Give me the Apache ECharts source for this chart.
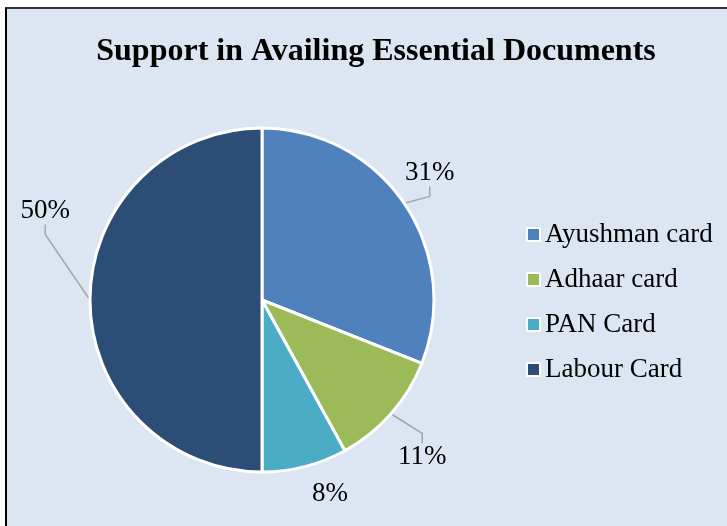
<html>
<head>
<meta charset="utf-8">
<title>Support in Availing Essential Documents</title>
<script src="https://cdn.jsdelivr.net/npm/echarts@6/dist/echarts.min.js"></script>
<style>
  body { margin: 0; background: #fff; }
  #frame { position: absolute; left: 5px; top: 7px; width: 720px; height: 517px;
           border-left: 2px solid #000; border-top: 2px solid #333; background: #DCE6F2; }
  #main { width: 720px; height: 517px; }
</style>
</head>
<body>
<div id="frame"><div id="main"></div></div>
<script>
// data
var categories = ['Ayushman card', 'Adhaar card', 'PAN Card', 'Labour Card'];
var shares = [31, 11, 8, 50];
var colors = ['#4F81BD', '#9BBB59', '#4BACC6', '#2C4D75'];

// label placement (Excel style), px inside chart
var labelSpots = [
  { x: 398, y: 164, align: 'left' },
  { x: 391, y: 448, align: 'left' },
  { x: 305, y: 485, align: 'left' },
  { x: 63, y: 202, align: 'right' }
];

var pieData = [];
for (var i = 0; i < categories.length; i++) {
  var d = { name: categories[i], value: shares[i], itemStyle: { color: colors[i] } };
  if (i === 2) d.labelLine = { show: false };
  pieData.push(d);
}

var myChart = echarts.init(document.getElementById('main'));
var font = '"Liberation Serif", "Times New Roman", serif';

var option = {
  backgroundColor: '#DCE6F2',
  animation: false,
  title: {
    text: 'Support in Availing Essential Documents',
    left: 364, top: 22, textAlign: 'center',
    textStyle: { fontFamily: font, fontSize: 32, fontWeight: 'bold', color: '#000' }
  },
  legend: {
    orient: 'vertical',
    left: 514, top: 207,
    icon: 'rect', itemWidth: 13, itemHeight: 13, itemGap: 18,
    textStyle: { fontFamily: font, fontSize: 27, color: '#000' },
    data: categories
  },
  series: [{
    type: 'pie',
    center: [255, 291],
    radius: 172,
    startAngle: 90,
    clockwise: true,
    data: pieData,
    itemStyle: { borderColor: '#fff', borderWidth: 3 },
    label: {
      show: true, position: 'outside',
      formatter: '{c}%', overflow: 'none',
      fontFamily: font, fontSize: 27, color: '#000'
    },
    labelLine: { show: true, length: 12, length2: 10, lineStyle: { color: '#A6A6A6', width: 1.5 } },
    labelLayout: function (p) {
      var s = labelSpots[p.dataIndex];
      return { x: s.x, y: s.y, align: s.align, verticalAlign: 'middle' };
    }
  }]
};
myChart.setOption(option);
</script>
</body>
</html>
